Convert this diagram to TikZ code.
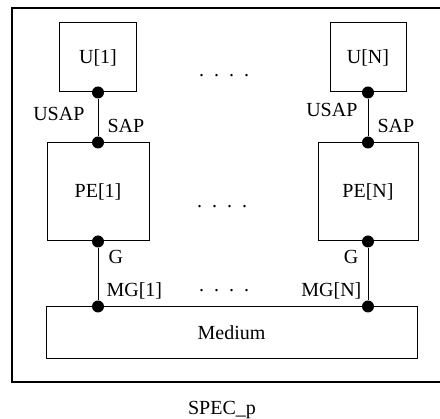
\documentclass[tikz,border=0pt]{standalone}
\usepackage{fontspec}
\setmainfont{Liberation Serif}
\usetikzlibrary{positioning}
\tikzset{
  blockbox/.style={
    draw,
    line width=1pt,
    inner sep=0pt,
    font=\fontsize{20}{24}\selectfont
  },
  portdot/.style={
    circle,
    fill,
    inner sep=0pt,
    minimum size=12pt
  },
  portlabel/.style={
    inner sep=1pt,
    font=\fontsize{20}{24}\selectfont
  },
  link/.style={
    line width=1pt
  },
  gapdots/.style={
    anchor=base,
    inner sep=0pt,
    font=\fontsize{20}{24}\selectfont
  }
}

\begin{document}
\begin{tikzpicture}[x=1pt,y=-1pt]
\useasboundingbox (0,0) rectangle (440,419);
\clip (0,0) rectangle (440,419);
\draw[line width=1.4pt] (12,8) rectangle (452,382);
% users
\node[blockbox, minimum width=77pt, minimum height=69pt] (U1) at (98,57.5) {U[1]};
\node[blockbox, minimum width=76pt, minimum height=69pt] (UN) at (368,57.5) {U[N]};
% protocol entities
\node[blockbox, minimum width=102pt, minimum height=98pt] (PE1) at (98,192) {PE[1]};
\node[blockbox, minimum width=100pt, minimum height=98pt] (PEN) at (368,192) {PE[N]};
% medium
\node[blockbox, minimum width=371pt, minimum height=52pt] (medium) at (231.5,333) {Medium};
% ports
\node[portdot] (usap1) at (U1.south) {};
\node[portdot] (sap1) at (PE1.north) {};
\node[portdot] (g1) at (PE1.south) {};
\node[portdot] (mg1) at (PE1.south |- medium.north) {};
\node[portdot] (usapN) at (UN.south) {};
\node[portdot] (sapN) at (PEN.north) {};
\node[portdot] (gN) at (PEN.south) {};
\node[portdot] (mgN) at (PEN.south |- medium.north) {};
\draw[link] (usap1) -- (sap1);
\draw[link] (g1) -- (mg1);
\draw[link] (usapN) -- (sapN);
\draw[link] (gN) -- (mgN);
% port labels
\node[portlabel, below left=9pt and 8pt of usap1] (usapL1) {USAP};
\node[portlabel, above right=4pt and 4pt of sap1] (sapL1) {SAP};
\node[portlabel, below right=3pt and 5pt of g1] (gL1) {G};
\node[portlabel, above right=2pt and 3pt of mg1] (mgL1) {MG[1]};
\node[portlabel, below left=5pt and 5pt of usapN] (usapLN) {USAP};
\node[portlabel, above right=4pt and 4pt of sapN] (sapLN) {SAP};
\node[portlabel, below left=3pt and 4pt of gN] (gLN) {G};
\node[portlabel, above left=2pt and 1pt of mgN] (mgLN) {MG[N]};
% ellipses
\node[gapdots] (dotsU) at (224,77) {.\hspace{10pt}.\hspace{10pt}.\hspace{10pt}.};
\node[gapdots] (dotsPE) at (222,208) {.\hspace{10pt}.\hspace{10pt}.\hspace{10pt}.};
\node[gapdots] (dotsMG) at (224,292) {.\hspace{10pt}.\hspace{10pt}.\hspace{10pt}.};
\node[gapdots] (title) at (222,415) {SPEC\_p};
\end{tikzpicture}
\end{document}
